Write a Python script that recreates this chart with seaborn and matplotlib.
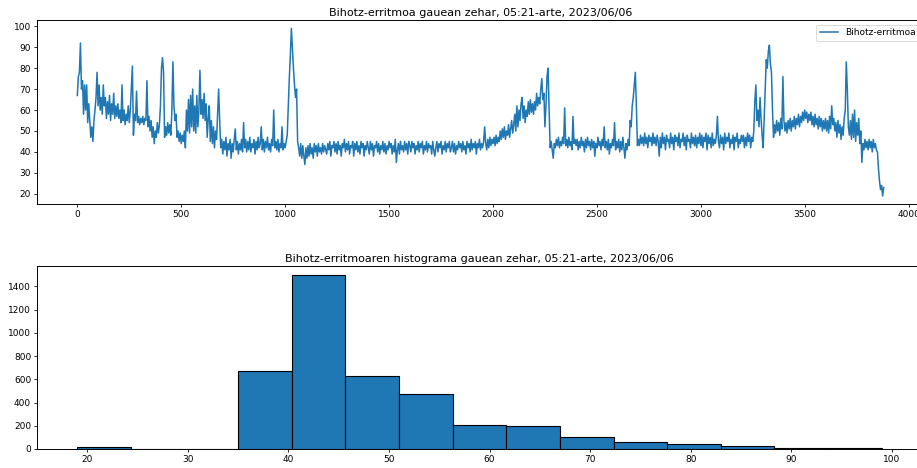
import numpy as np
import pandas as pd
import matplotlib
matplotlib.use("Agg")
import matplotlib.pyplot as plt
import seaborn as sns

# ---- data: heart rate, one value every 5 readings ----
sample_step = 5
hr_values = [
    67, 76, 78, 92, 70, 74, 58, 72, 60, 72, 54, 63, 55, 47, 52, 45, 55, 60, 66, 78,
    62, 72, 60, 66, 58, 72, 62, 66, 56, 64, 58, 67, 55, 63, 58, 68, 56, 62, 57, 63,
    56, 60, 54, 72, 55, 60, 53, 58, 55, 62, 54, 60, 70, 81, 48, 58, 55, 69, 54, 57,
    53, 56, 54, 57, 53, 56, 55, 74, 52, 57, 50, 55, 47, 52, 44, 50, 47, 54, 49, 53,
    62, 80, 85, 78, 47, 52, 48, 54, 49, 53, 48, 60, 83, 62, 55, 58, 47, 50, 45, 49,
    44, 48, 45, 50, 42, 60, 50, 65, 49, 67, 52, 70, 50, 62, 49, 67, 52, 60, 79, 58,
    65, 56, 68, 55, 63, 47, 56, 62, 45, 55, 44, 52, 42, 50, 46, 58, 70, 55, 42, 46,
    39, 45, 41, 47, 38, 44, 41, 46, 37, 44, 40, 46, 51, 41, 45, 39, 44, 41, 46, 40,
    54, 42, 46, 40, 45, 41, 47, 40, 44, 42, 46, 39, 45, 41, 47, 42, 44, 52, 41, 46,
    40, 45, 42, 47, 41, 44, 40, 46, 43, 60, 42, 45, 41, 46, 40, 44, 42, 52, 41, 44,
    42, 45, 48, 62, 75, 86, 99, 89, 80, 72, 66, 70, 45, 42, 38, 44, 37, 43, 38, 34,
    42, 37, 43, 38, 44, 39, 42, 37, 44, 40, 43, 38, 44, 40, 42, 39, 44, 40, 43, 41,
    39, 44, 41, 45, 38, 43, 42, 45, 40, 44, 39, 45, 41, 43, 38, 44, 42, 46, 40, 44,
    41, 45, 39, 43, 42, 45, 38, 44, 41, 45, 40, 43, 39, 45, 42, 44, 38, 43, 41, 45,
    42, 39, 45, 41, 44, 38, 43, 42, 45, 40, 44, 39, 43, 41, 45, 40, 44, 39, 43, 41,
    45, 42, 44, 39, 43, 40, 46, 35, 41, 44, 39, 45, 41, 43, 40, 45, 41, 44, 39, 45,
    43, 40, 45, 42, 44, 39, 43, 41, 45, 40, 44, 42, 45, 39, 43, 41, 45, 40, 44, 42,
    43, 39, 45, 41, 38, 42, 45, 40, 44, 42, 45, 39, 43, 41, 45, 40, 44, 42, 45, 40,
    42, 45, 40, 44, 39, 43, 41, 45, 42, 44, 40, 45, 41, 43, 39, 45, 42, 44, 40, 46,
    41, 44, 42, 45, 39, 44, 42, 46, 41, 44, 42, 45, 52, 44, 41, 46, 42, 47, 43, 46,
    44, 47, 43, 48, 44, 47, 45, 50, 46, 51, 47, 52, 46, 50, 48, 53, 47, 51, 55, 49,
    53, 58, 50, 62, 52, 60, 55, 63, 66, 56, 62, 54, 60, 57, 64, 58, 65, 59, 63, 58,
    64, 60, 68, 62, 66, 63, 70, 75, 65, 68, 52, 62, 76, 80, 60, 42, 45, 41, 37, 44,
    42, 46, 43, 47, 42, 45, 43, 47, 44, 61, 43, 46, 42, 47, 43, 45, 41, 57, 44, 46,
    43, 46, 41, 45, 42, 47, 43, 45, 40, 46, 42, 47, 43, 45, 41, 46, 42, 45, 38, 44,
    42, 47, 43, 45, 41, 46, 43, 52, 42, 45, 41, 46, 39, 44, 42, 46, 43, 54, 41, 45,
    42, 46, 40, 45, 41, 47, 42, 37, 44, 41, 46, 43, 55, 52, 62, 66, 72, 78, 62, 43,
    46, 43, 48, 44, 47, 43, 49, 44, 47, 42, 48, 45, 47, 43, 49, 44, 47, 43, 48, 45,
    38, 47, 42, 49, 44, 47, 41, 48, 45, 46, 42, 49, 44, 47, 41, 48, 45, 47, 43, 49,
    42, 46, 45, 49, 43, 47, 41, 48, 45, 46, 42, 49, 44, 47, 43, 48, 42, 47, 44, 49,
    43, 48, 42, 47, 45, 49, 41, 48, 44, 47, 42, 49, 43, 46, 44, 48, 57, 45, 42, 48,
    44, 47, 41, 49, 44, 47, 45, 49, 42, 46, 44, 48, 41, 47, 45, 49, 42, 46, 44, 48,
    45, 48, 42, 47, 43, 49, 45, 48, 42, 47, 45, 50, 64, 72, 55, 60, 52, 66, 56, 48,
    42, 56, 70, 84, 80, 88, 91, 82, 78, 60, 47, 53, 49, 55, 50, 54, 48, 56, 51, 76,
    55, 50, 54, 49, 55, 51, 56, 50, 55, 52, 57, 51, 56, 53, 58, 52, 57, 54, 59, 55,
    60, 56, 59, 54, 58, 55, 59, 53, 57, 52, 58, 53, 56, 51, 57, 52, 56, 50, 55, 51,
    56, 50, 55, 49, 57, 51, 62, 53, 56, 50, 54, 47, 55, 49, 53, 46, 52, 48, 56, 60,
    83, 70, 52, 48, 55, 46, 58, 47, 60, 45, 54, 48, 56, 44, 50, 35, 44, 41, 46, 42,
    45, 41, 46, 42, 45, 40, 46, 42, 44, 41, 40, 32, 26, 22, 24, 19, 23,
]
sample_index = np.arange(len(hr_values)) * sample_step

# ---- histogram: bin edges and counts ----
bin_edges = [19.0, 24.333, 29.667, 35.0, 40.333, 45.667, 51.0, 56.333, 61.667,
             67.0, 72.333, 77.667, 83.0, 88.333, 93.667, 99.0]
bin_counts = [17, 4, 4, 668, 1500, 627, 476, 209, 198, 103, 63, 43, 23, 6, 5]

line_label = "Bihotz-erritmoa"
title_top = "Bihotz-erritmoa gauean zehar, 05:21-arte, 2023/06/06"
title_bottom = "Bihotz-erritmoaren histograma gauean zehar, 05:21-arte, 2023/06/06"

plt.rcParams["font.family"] = ["DejaVu Sans"]
BLUE = "#1f77b4"
TICK_FS = 6.5
TITLE_FS = 8.0

fig = plt.figure(figsize=(9.17, 4.68), dpi=100)
ax1 = fig.add_axes([37 / 917, 1 - 204.3 / 468, (924 - 37) / 917, (204.3 - 20) / 468])
ax2 = fig.add_axes([37 / 917, 1 - 449 / 468, (922 - 37) / 917, (449 - 266) / 468])

df_line = pd.DataFrame({"x": sample_index, "hr": hr_values})
sns.lineplot(data=df_line, x="x", y="hr", ax=ax1, color=BLUE, linewidth=1.1,
             label=line_label)
ax1.set_xlabel("")
ax1.set_ylabel("")
ax1.set_title(title_top, fontsize=TITLE_FS, pad=3)
ax1.margins(x=0.05, y=0.05)
ax1.set_yticks([20, 30, 40, 50, 60, 70, 80, 90, 100])
ax1.set_xticks([0, 500, 1000, 1500, 2000, 2500, 3000, 3500, 4000])
leg = ax1.legend(loc="upper right", fontsize=TICK_FS, frameon=True,
                 handlelength=2.0, borderpad=0.4)
leg.get_frame().set_linewidth(0.6)

bin_centers = [(bin_edges[i] + bin_edges[i + 1]) / 2 for i in range(len(bin_counts))]
df_hist = pd.DataFrame({"center": bin_centers, "count": bin_counts})
sns.histplot(data=df_hist, x="center", weights="count", bins=bin_edges, ax=ax2,
             color=BLUE, alpha=1.0, edgecolor="black", linewidth=0.8)
ax2.set_xlabel("")
ax2.set_ylabel("")
ax2.set_title(title_bottom, fontsize=TITLE_FS, pad=3)
ax2.set_xlim(15, 103)
ax2.set_ylim(0, 1500 * 1.05)
ax2.set_xticks([20, 30, 40, 50, 60, 70, 80, 90, 100])
ax2.set_yticks([0, 200, 400, 600, 800, 1000, 1200, 1400])

for ax in (ax1, ax2):
    ax.tick_params(labelsize=TICK_FS, length=2.2, width=0.6, pad=2)
    for sp in ax.spines.values():
        sp.set_linewidth(0.7)

fig.savefig("out.png", dpi=100)
